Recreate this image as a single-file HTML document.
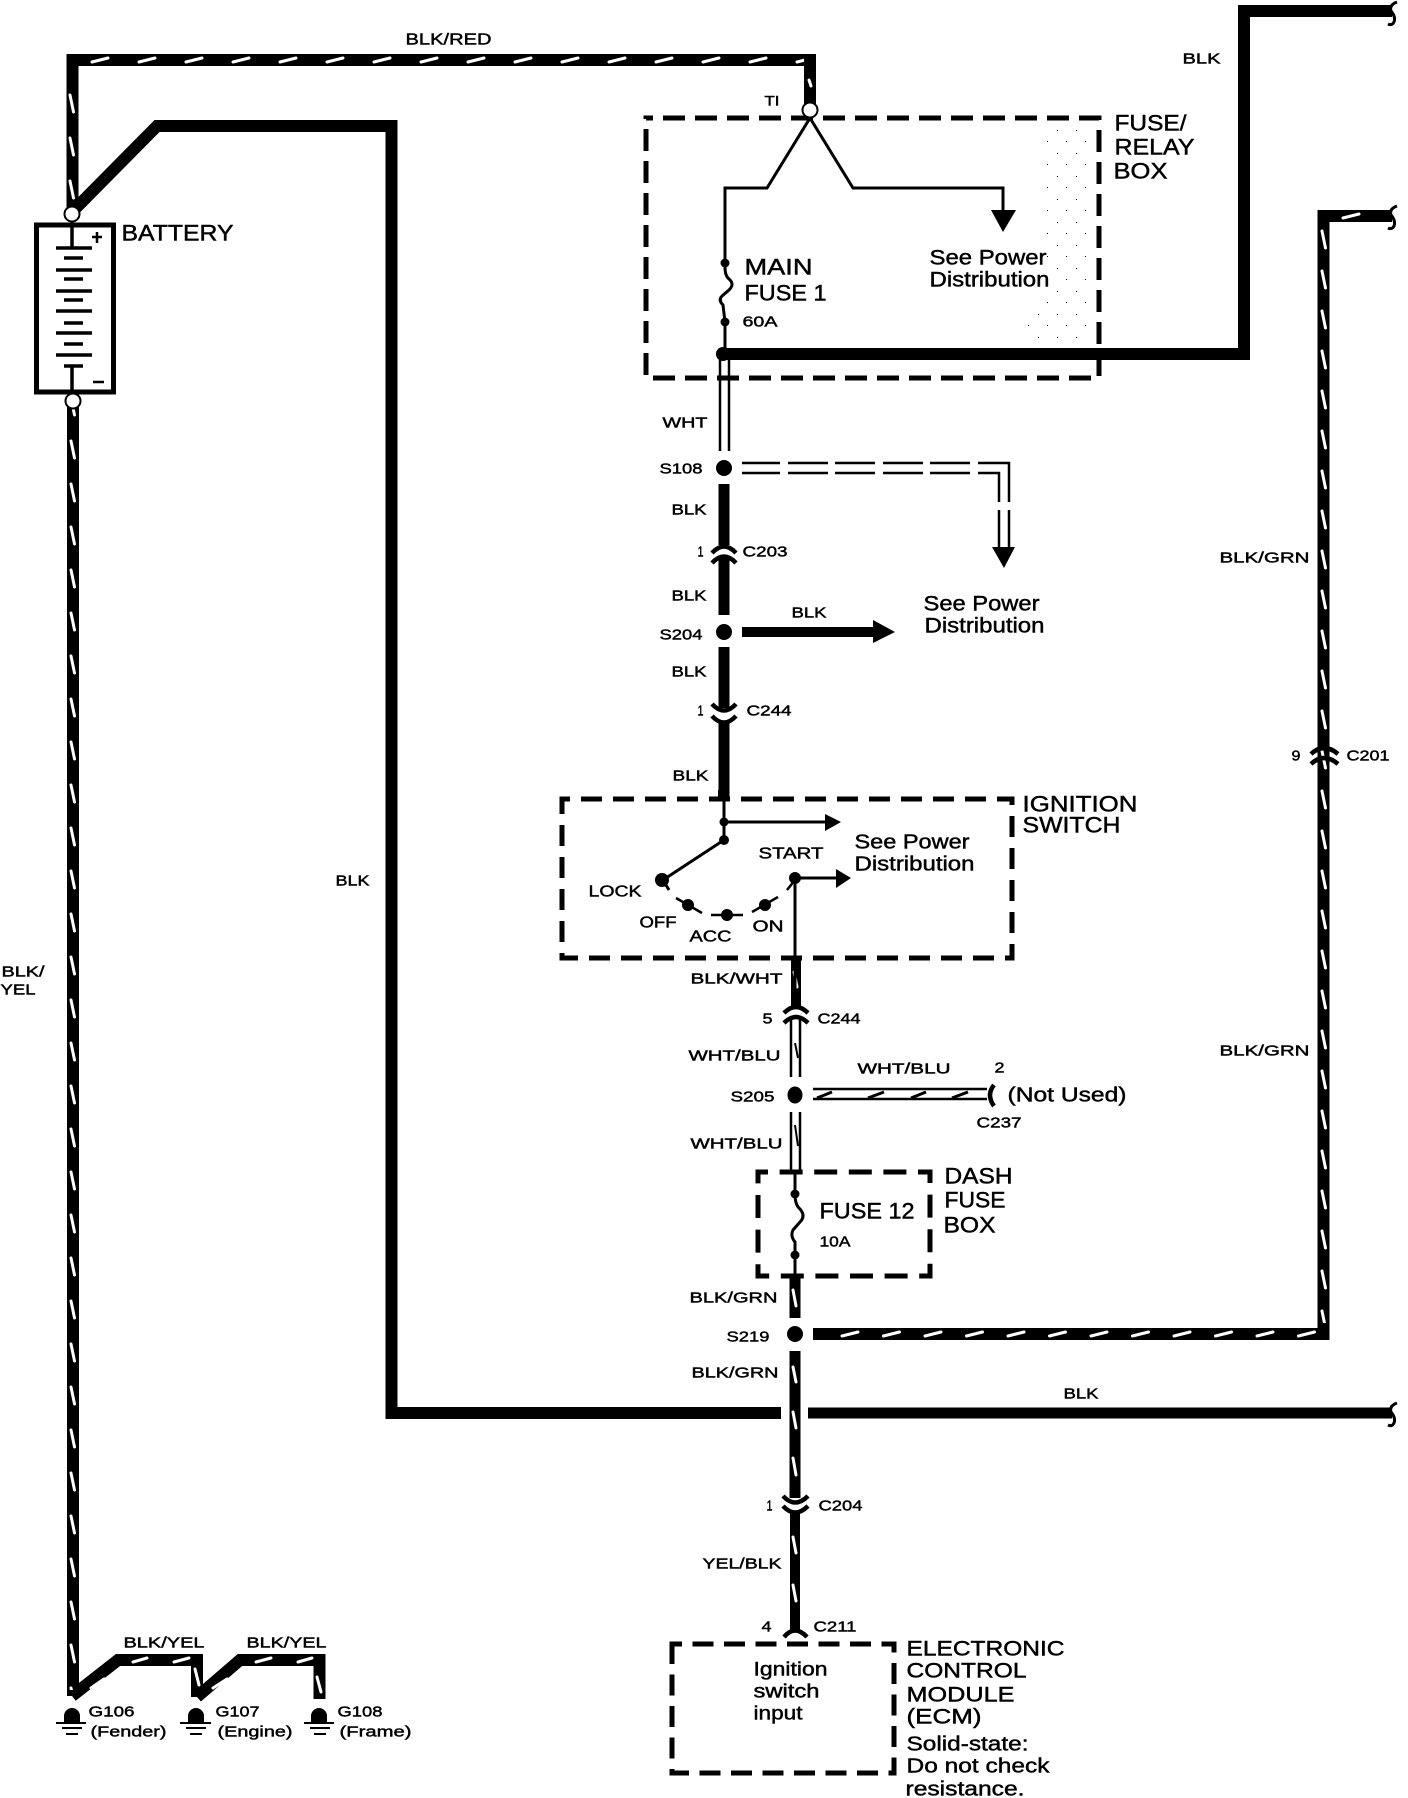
<!DOCTYPE html>
<html><head><meta charset="utf-8"><title>Ignition circuit diagram</title>
<style>
html,body{margin:0;padding:0;background:#fff;width:1408px;height:1798px;overflow:hidden}
svg{display:block}
text{font-family:"Liberation Sans",sans-serif;fill:#000;stroke:#000;stroke-width:.45;white-space:pre}
</style></head><body>
<svg xmlns="http://www.w3.org/2000/svg" width="1408" height="1798" viewBox="0 0 1408 1798">
<defs>
<pattern id="pv" patternUnits="userSpaceOnUse" width="12" height="43"><path d="M4 3 L7.5 20" stroke="#fff" stroke-width="3" stroke-linecap="round" fill="none"/></pattern>
<pattern id="pr" patternUnits="userSpaceOnUse" width="12" height="40"><path d="M4 3 L7.5 20" stroke="#fff" stroke-width="3" stroke-linecap="round" fill="none"/></pattern>
<pattern id="ph" patternUnits="userSpaceOnUse" width="47" height="12"><path d="M6 8 L22 4" stroke="#fff" stroke-width="3" stroke-linecap="round" fill="none"/></pattern>
<pattern id="ph2" patternUnits="userSpaceOnUse" width="41.500" height="12"><path d="M6 8 L22 4" stroke="#fff" stroke-width="3" stroke-linecap="round" fill="none"/></pattern>
<pattern id="dots" patternUnits="userSpaceOnUse" width="19" height="23"><rect x="2" y="3" width="1" height="1" fill="#000"/><rect x="12" y="15" width="1" height="1" fill="#000"/></pattern>
</defs>
<rect width="1408" height="1798" fill="#fff"/>

<!-- stipple in fuse/relay box -->
<rect x="1040" y="125" width="55" height="220" fill="url(#dots)"/>
<rect x="1020" y="310" width="40" height="36" fill="url(#dots)"/>

<!-- heavy wires -->
<g fill="none" stroke="#000" stroke-linejoin="miter">
<path d="M72.500 210 V60 H810 V105" stroke-width="12"/>
<path d="M70 214 L157 126 H391.500 V1413 H781" stroke-width="12"/>
<path d="M73 405 V1696" stroke-width="12"/>
<path d="M808 1413 H1392" stroke-width="11"/>
<path d="M724 354 H1244 V11 H1392" stroke-width="12"/>
<path d="M813 1334 H1323.500 V216 H1392" stroke-width="12"/>
<path d="M724 484 V545" stroke-width="11"/>
<path d="M724 558 V615" stroke-width="11"/>
<path d="M724 647 V708" stroke-width="11"/>
<path d="M724 722 V798" stroke-width="11"/>
<path d="M742 632 H875" stroke-width="10"/>
<path d="M796 958 V1008" stroke-width="10"/>
<path d="M795 1276 V1318" stroke-width="11"/>
<path d="M795 1351 V1498" stroke-width="11"/>
<path d="M795 1512 V1632" stroke-width="10"/>
<path d="M72 1696 L118 1660 H197 V1697" stroke-width="12"/>
<path d="M197 1697 L240 1660 H319.500 V1699" stroke-width="12"/>
</g>

<!-- wire tracer marks -->
<g transform="translate(67 395)"><rect width="12" height="1295" fill="url(#pv)"/></g>
<g transform="translate(66 92)"><rect width="12" height="110" fill="url(#pv)"/></g>
<g transform="translate(1318 228)"><rect width="12" height="1095" fill="url(#pr)"/></g>
<g transform="translate(86 54)"><rect width="718" height="12" fill="url(#ph)"/></g>
<g transform="translate(836 1328)"><rect width="480" height="12" fill="url(#ph2)"/></g>
<g transform="translate(1337 210)"><rect width="40" height="12" fill="url(#ph)"/></g>
<g stroke="#fff" stroke-width="3" stroke-linecap="round" fill="none">
<path d="M809 80 L811 86 M793 1290 L796 1306 M793 1367 L796 1382 M793 1412 L796 1428 M793 1458 L796 1475 M793 1537 L796 1553 M793 1585 L796 1601 M794 972 L797 987"/>
<path d="M133 1662 L147 1658 M174 1662 L189 1658 M91 1688 L104 1679 M195 1669 L199 1685"/>
<path d="M213 1688 L227 1679 M256 1662 L271 1658 M298 1662 L312 1658 M317 1677 L321 1692"/>
</g>

<!-- battery -->
<rect x="36.500" y="225" width="77" height="167" fill="#fff" stroke="#000" stroke-width="5"/>
<g stroke="#000" stroke-width="3.500" fill="none">
<path d="M72 227 V247 M56 248 H92 M64 258 H83 M56 270 H92 M64 279 H83 M56 291 H92 M64 300 H83 M56 311 H92 M64 323 H83 M56 333 H92 M64 344 H83 M56 355 H92 M64 366 H83 M72 366 V392"/>
<path d="M97 232 V243 M92 237 H102 M93 382 H104" stroke-width="2.500"/>
</g>
<circle cx="72" cy="214" r="7.500" fill="#fff" stroke="#000" stroke-width="2"/>
<circle cx="73" cy="401" r="7.500" fill="#fff" stroke="#000" stroke-width="2"/>

<!-- fuse/relay box -->
<rect x="646" y="118" width="453" height="260" fill="none" stroke="#000" stroke-width="5" stroke-dasharray="22 10" stroke-dashoffset="15"/>
<g fill="none" stroke="#000" stroke-width="3">
<path d="M810 118 L767 188 H725 V263"/>
<path d="M810 118 L853 188 H1003 V212"/>
<path d="M725 267 Q725 276 729 279 Q735 284 729 290 L722 296 Q718 300 723 305 L725 322 V350"/>
<path d="M720 359 V451 M729 359 V451" stroke-width="2.500"/>
</g>
<circle cx="810" cy="110" r="7.500" fill="#fff" stroke="#000" stroke-width="2"/>
<circle cx="725" cy="263" r="4.500"/><circle cx="725" cy="322" r="4.500"/><circle cx="723" cy="354" r="7"/>
<path d="M991 210 H1016 L1003 232 Z"/>

<!-- S108 branch -->
<circle cx="724" cy="468" r="8"/>
<g fill="none" stroke="#000" stroke-width="2.500">
<path d="M742 463 H780 M788 463 H828 M835 463 H875 M883 463 H923 M930 463 H970 M978 463 H1009 V502 M1009 510 V547"/>
<path d="M742 473 H780 M788 473 H828 M835 473 H875 M883 473 H923 M930 473 H970 M978 473 H999 V502 M999 510 V547"/>
</g>
<path d="M992 547 H1015 L1004 568 Z"/>

<!-- connector arcs -->
<g fill="none" stroke="#000" stroke-width="4.500">
<path d="M712 553 Q724 540 736 553 M712 563 Q724 550 736 563"/>
<path d="M712 704 Q724 717 736 704 M712 716 Q724 729 736 716"/>
<path d="M784 1013 Q796 1001 808 1013 M784 1023 Q796 1011 808 1023"/>
<path d="M783 1496 Q795 1509 808 1496 M783 1506 Q795 1519 808 1506"/>
<path d="M784 1637 Q795 1624 807 1637"/>
<path d="M1311 754 Q1324 742 1338 754 M1311 764 Q1324 752 1338 764"/>
<path d="M994 1085 Q986 1095 994 1106" stroke-width="4.500"/>
</g>

<!-- S204 -->
<circle cx="724" cy="632" r="8"/>
<path d="M873 620 L895 632 L873 643 Z"/>

<!-- ignition switch -->
<rect x="562" y="799" width="450" height="159" fill="none" stroke="#000" stroke-width="5" stroke-dasharray="21 11" stroke-dashoffset="13"/>
<rect x="718" y="790" width="11" height="10"/>
<g fill="none" stroke="#000" stroke-width="3">
<path d="M724 798 V840 L663 880 L669 890"/>
<path d="M724 822 H827"/>
<path d="M795 1000 V878 H838"/>
<path d="M676 898 L702 913 M711 915 H743 M752 912 L778 897 M787 890 L795 880" stroke-width="2.500"/>
</g>
<circle cx="724" cy="822" r="4.500"/><circle cx="724" cy="840" r="5"/><circle cx="662" cy="880" r="7"/>
<circle cx="688" cy="905" r="6"/><circle cx="727" cy="915" r="6"/><circle cx="765" cy="905" r="6"/><circle cx="795" cy="878" r="6"/>
<path d="M825 814 L841 822 L825 831 Z"/><path d="M836 869 L851 878 L836 888 Z"/>

<!-- S205 -->
<g fill="none" stroke="#000" stroke-width="2.500">
<path d="M791 1018 V1077 M800 1018 V1077 M791 1112 V1172 M800 1112 V1172"/>
<path d="M813 1089 H987 M813 1099 H987"/>
<path d="M817 1098 L832 1092 M868 1098 L884 1092 M911 1098 L926 1092 M952 1098 L968 1092" stroke-width="3"/>
<path d="M795 1043 L798 1058 M795 1125 L798 1146" stroke-width="2"/>
</g>
<ellipse cx="795" cy="1095" rx="7.500" ry="8.500"/>

<!-- dash fuse box -->
<rect x="758" y="1172" width="172" height="104" fill="none" stroke="#000" stroke-width="5" stroke-dasharray="23 11.600" stroke-dashoffset="13"/>
<path d="M795 1172 V1194 Q795 1205 800 1209 Q806 1216 800 1222 L793 1230 Q790 1236 795 1242 V1276" fill="none" stroke="#000" stroke-width="3"/>
<circle cx="795" cy="1194" r="4.500"/><circle cx="795" cy="1255" r="4.500"/>
<circle cx="795" cy="1334" r="8"/>

<!-- ECM box -->
<rect x="672" y="1644" width="222" height="129" fill="none" stroke="#000" stroke-width="5" stroke-dasharray="21 10.500" stroke-dashoffset="11"/>

<!-- wire breaks -->
<g fill="none" stroke="#000" stroke-width="3">
<path d="M1397 2 Q1389 5 1391 11 Q1396 17 1394 22 Q1392 26 1388 24"/>
<path d="M1397 206 Q1389 209 1391 215 Q1396 221 1394 226 Q1392 230 1388 228"/>
<path d="M1397 1403 Q1389 1406 1391 1412 Q1396 1418 1394 1423 Q1392 1427 1388 1425"/>
</g>

<!-- grounds -->
<g>
<path d="M64 1723 V1716 A8 8 0 0 1 80 1716 V1723 Z"/><path d="M188 1723 V1716 A8 8 0 0 1 204 1716 V1723 Z"/><path d="M311 1723 V1716 A8 8 0 0 1 327 1716 V1723 Z"/>
<path d="M56 1723 H86 M62 1728 H82 M66 1734 H78 M180 1723 H211 M186 1728 H206 M190 1734 H202 M304 1723 H334 M310 1728 H330 M314 1734 H326" stroke="#000" stroke-width="2" fill="none"/>
</g>

<!-- labels -->
<g transform="translate(-0.500 -0.500)">
<text x="406" y="45" font-size="16" textLength="86" lengthAdjust="spacingAndGlyphs">BLK/RED</text>
<text x="122" y="241" font-size="22" textLength="112" lengthAdjust="spacingAndGlyphs">BATTERY</text>
<text x="765" y="106" font-size="14" textLength="15" lengthAdjust="spacingAndGlyphs">TI</text>
<text x="1183" y="64" font-size="15" textLength="38" lengthAdjust="spacingAndGlyphs">BLK</text>
<text x="1115" y="131" font-size="22" textLength="72" lengthAdjust="spacingAndGlyphs">FUSE/</text>
<text x="1115" y="155" font-size="22" textLength="80" lengthAdjust="spacingAndGlyphs">RELAY</text>
<text x="1114" y="179" font-size="22" textLength="54" lengthAdjust="spacingAndGlyphs">BOX</text>
<text x="745" y="275" font-size="22" textLength="68" lengthAdjust="spacingAndGlyphs">MAIN</text>
<text x="745" y="301" font-size="22" textLength="82" lengthAdjust="spacingAndGlyphs">FUSE 1</text>
<text x="743" y="327" font-size="15" textLength="35" lengthAdjust="spacingAndGlyphs">60A</text>
<text x="930" y="265" font-size="21" textLength="117" lengthAdjust="spacingAndGlyphs">See Power</text>
<text x="930" y="287" font-size="21" textLength="120" lengthAdjust="spacingAndGlyphs">Distribution</text>
<text x="663" y="428" font-size="15" textLength="45" lengthAdjust="spacingAndGlyphs">WHT</text>
<text x="660" y="474" font-size="15" textLength="43" lengthAdjust="spacingAndGlyphs">S108</text>
<text x="672" y="515" font-size="15" textLength="35" lengthAdjust="spacingAndGlyphs">BLK</text>
<text x="698" y="557" font-size="15" textLength="6" lengthAdjust="spacingAndGlyphs">1</text>
<text x="743" y="557" font-size="15" textLength="45" lengthAdjust="spacingAndGlyphs">C203</text>
<text x="672" y="601" font-size="15" textLength="35" lengthAdjust="spacingAndGlyphs">BLK</text>
<text x="792" y="618" font-size="15" textLength="35" lengthAdjust="spacingAndGlyphs">BLK</text>
<text x="660" y="640" font-size="15" textLength="43" lengthAdjust="spacingAndGlyphs">S204</text>
<text x="924" y="611" font-size="21" textLength="116" lengthAdjust="spacingAndGlyphs">See Power</text>
<text x="925" y="633" font-size="21" textLength="120" lengthAdjust="spacingAndGlyphs">Distribution</text>
<text x="672" y="677" font-size="15" textLength="35" lengthAdjust="spacingAndGlyphs">BLK</text>
<text x="698" y="716" font-size="15" textLength="6" lengthAdjust="spacingAndGlyphs">1</text>
<text x="747" y="716" font-size="15" textLength="45" lengthAdjust="spacingAndGlyphs">C244</text>
<text x="673" y="781" font-size="15" textLength="36" lengthAdjust="spacingAndGlyphs">BLK</text>
<text x="1023" y="812" font-size="22" textLength="115" lengthAdjust="spacingAndGlyphs">IGNITION</text>
<text x="1023" y="833" font-size="22" textLength="98" lengthAdjust="spacingAndGlyphs">SWITCH</text>
<text x="855" y="849" font-size="20" textLength="115" lengthAdjust="spacingAndGlyphs">See Power</text>
<text x="855" y="871" font-size="20" textLength="120" lengthAdjust="spacingAndGlyphs">Distribution</text>
<text x="759" y="859" font-size="16" textLength="65" lengthAdjust="spacingAndGlyphs">START</text>
<text x="589" y="897" font-size="16" textLength="53" lengthAdjust="spacingAndGlyphs">LOCK</text>
<text x="640" y="928" font-size="16" textLength="37" lengthAdjust="spacingAndGlyphs">OFF</text>
<text x="690" y="942" font-size="16" textLength="42" lengthAdjust="spacingAndGlyphs">ACC</text>
<text x="753" y="932" font-size="16" textLength="31" lengthAdjust="spacingAndGlyphs">ON</text>
<text x="691" y="984" font-size="15" textLength="92" lengthAdjust="spacingAndGlyphs">BLK/WHT</text>
<text x="763" y="1024" font-size="15" textLength="10" lengthAdjust="spacingAndGlyphs">5</text>
<text x="818" y="1024" font-size="15" textLength="43" lengthAdjust="spacingAndGlyphs">C244</text>
<text x="689" y="1061" font-size="15" textLength="92" lengthAdjust="spacingAndGlyphs">WHT/BLU</text>
<text x="858" y="1074" font-size="15" textLength="93" lengthAdjust="spacingAndGlyphs">WHT/BLU</text>
<text x="995" y="1073" font-size="15" textLength="10" lengthAdjust="spacingAndGlyphs">2</text>
<text x="731" y="1102" font-size="15" textLength="44" lengthAdjust="spacingAndGlyphs">S205</text>
<text x="1008" y="1102" font-size="20" textLength="119" lengthAdjust="spacingAndGlyphs">(Not Used)</text>
<text x="977" y="1128" font-size="15" textLength="45" lengthAdjust="spacingAndGlyphs">C237</text>
<text x="691" y="1149" font-size="15" textLength="92" lengthAdjust="spacingAndGlyphs">WHT/BLU</text>
<text x="945" y="1184" font-size="22" textLength="68" lengthAdjust="spacingAndGlyphs">DASH</text>
<text x="945" y="1208" font-size="22" textLength="61" lengthAdjust="spacingAndGlyphs">FUSE</text>
<text x="944" y="1233" font-size="22" textLength="52" lengthAdjust="spacingAndGlyphs">BOX</text>
<text x="820" y="1219" font-size="22" textLength="95" lengthAdjust="spacingAndGlyphs">FUSE 12</text>
<text x="820" y="1247" font-size="15" textLength="31" lengthAdjust="spacingAndGlyphs">10A</text>
<text x="690" y="1303" font-size="15" textLength="88" lengthAdjust="spacingAndGlyphs">BLK/GRN</text>
<text x="727" y="1342" font-size="15" textLength="43" lengthAdjust="spacingAndGlyphs">S219</text>
<text x="692" y="1378" font-size="15" textLength="87" lengthAdjust="spacingAndGlyphs">BLK/GRN</text>
<text x="1064" y="1399" font-size="15" textLength="35" lengthAdjust="spacingAndGlyphs">BLK</text>
<text x="767" y="1511" font-size="15" textLength="6" lengthAdjust="spacingAndGlyphs">1</text>
<text x="819" y="1511" font-size="15" textLength="44" lengthAdjust="spacingAndGlyphs">C204</text>
<text x="703" y="1569" font-size="15" textLength="79" lengthAdjust="spacingAndGlyphs">YEL/BLK</text>
<text x="762" y="1632" font-size="15" textLength="10" lengthAdjust="spacingAndGlyphs">4</text>
<text x="814" y="1632" font-size="15" textLength="43" lengthAdjust="spacingAndGlyphs">C211</text>
<text x="754" y="1676" font-size="19" textLength="74" lengthAdjust="spacingAndGlyphs">Ignition</text>
<text x="754" y="1698" font-size="19" textLength="66" lengthAdjust="spacingAndGlyphs">switch</text>
<text x="754" y="1720" font-size="19" textLength="49" lengthAdjust="spacingAndGlyphs">input</text>
<text x="907" y="1656" font-size="21" textLength="158" lengthAdjust="spacingAndGlyphs">ELECTRONIC</text>
<text x="907" y="1678" font-size="21" textLength="120" lengthAdjust="spacingAndGlyphs">CONTROL</text>
<text x="907" y="1702" font-size="21" textLength="108" lengthAdjust="spacingAndGlyphs">MODULE</text>
<text x="907" y="1724" font-size="21" textLength="75" lengthAdjust="spacingAndGlyphs">(ECM)</text>
<text x="907" y="1751" font-size="20" textLength="122" lengthAdjust="spacingAndGlyphs">Solid-state:</text>
<text x="907" y="1773" font-size="20" textLength="143" lengthAdjust="spacingAndGlyphs">Do not check</text>
<text x="906" y="1796" font-size="20" textLength="119" lengthAdjust="spacingAndGlyphs">resistance.</text>
<text x="1220" y="563" font-size="15" textLength="90" lengthAdjust="spacingAndGlyphs">BLK/GRN</text>
<text x="1220" y="1056" font-size="15" textLength="90" lengthAdjust="spacingAndGlyphs">BLK/GRN</text>
<text x="1292" y="761" font-size="15" textLength="9" lengthAdjust="spacingAndGlyphs">9</text>
<text x="1347" y="761" font-size="15" textLength="43" lengthAdjust="spacingAndGlyphs">C201</text>
<text x="336" y="886" font-size="15" textLength="34" lengthAdjust="spacingAndGlyphs">BLK</text>
<text x="2" y="977" font-size="15" textLength="43" lengthAdjust="spacingAndGlyphs">BLK/</text>
<text x="1" y="995" font-size="15" textLength="35" lengthAdjust="spacingAndGlyphs">YEL</text>
<text x="124" y="1648" font-size="15" textLength="81" lengthAdjust="spacingAndGlyphs">BLK/YEL</text>
<text x="247" y="1648" font-size="15" textLength="80" lengthAdjust="spacingAndGlyphs">BLK/YEL</text>
<text x="89" y="1717" font-size="15" textLength="46" lengthAdjust="spacingAndGlyphs">G106</text>
<text x="91" y="1737" font-size="15" textLength="76" lengthAdjust="spacingAndGlyphs">(Fender)</text>
<text x="216" y="1717" font-size="15" textLength="44" lengthAdjust="spacingAndGlyphs">G107</text>
<text x="218" y="1737" font-size="15" textLength="75" lengthAdjust="spacingAndGlyphs">(Engine)</text>
<text x="338" y="1717" font-size="15" textLength="45" lengthAdjust="spacingAndGlyphs">G108</text>
<text x="340" y="1737" font-size="15" textLength="72" lengthAdjust="spacingAndGlyphs">(Frame)</text>
</g>
</svg>
</body></html>
